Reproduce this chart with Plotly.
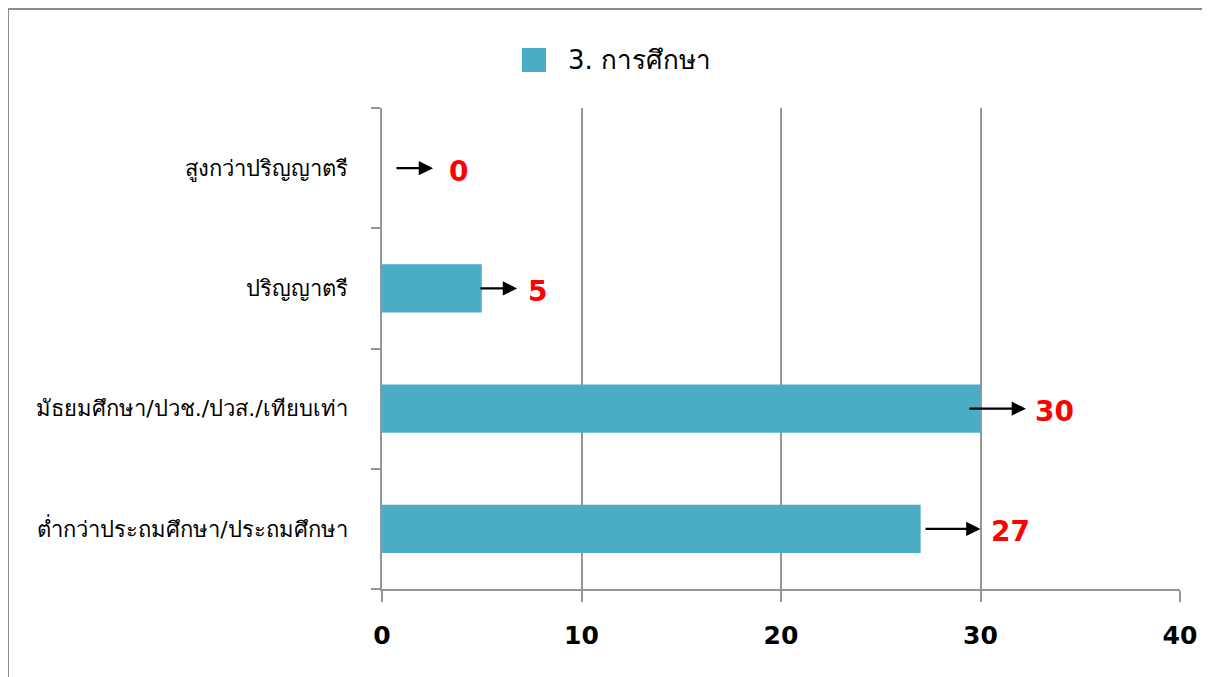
import plotly.graph_objects as go

categories = ["ต่ำกว่าประถมศึกษา/ประถมศึกษา", "มัธยมศึกษา/ปวช./ปวส./เทียบเท่า", "ปริญญาตรี", "สูงกว่าปริญญาตรี"]
values = [27, 30, 5, 0]
series_name = "3. การศึกษา"
x_ticks = [0, 10, 20, 30, 40]

# layout tweaks for arrows/labels (offsets relative to bar value, in axis units)
arrow_tail_off = [0.17, -0.63, -0.14, 0.65]
arrow_head_off = [3.0, 2.28, 1.77, 2.56]
label_off = [4.48, 3.73, 2.77, 3.81]

# page has an 8px body margin, so the figure is drawn 8px in and down
W, H = 1202, 669
L, R, T, B = 374, 30, 100, 88
pw, ph = W - L - R, H - T - B

FONT = "DejaVu Sans, Tahoma, sans-serif"
BAR = "#4BACC6"
GRID = "#969696"

fig = go.Figure()
fig.add_trace(go.Bar(
    y=categories, x=values, orientation="h", name=series_name,
    marker=dict(color=BAR, line=dict(width=0)), showlegend=False,
))

annotations = []
for c, v, t, h, lo in zip(categories, values, arrow_tail_off, arrow_head_off, label_off):
    annotations.append(dict(
        x=v + h, y=c, ax=v + t, ay=c, xref="x", yref="y", axref="x", ayref="y",
        text="", showarrow=True, arrowhead=2, arrowsize=1.3, arrowwidth=2.2, arrowcolor="#000000",
    ))
    annotations.append(dict(
        x=v + lo, y=c, xref="x", yref="y", text=f"<b>{v}</b>", showarrow=False,
        font=dict(family=FONT, size=28, color="#FF0000"), xanchor="center", yanchor="middle",
        yshift=-3,
    ))

# manual legend (larger swatch than plotly's built-in legend allows)
leg_x_px, leg_y_px = 514, 52  # figure px: swatch left, vertical centre
sw = 24
def px_to_paper_x(p):
    return (p - L) / pw
def px_to_paper_y(p):
    return (H - B - p) / ph

annotations.append(dict(
    x=px_to_paper_x(leg_x_px + sw + 20), y=px_to_paper_y(leg_y_px), xref="paper", yref="paper",
    text=series_name, showarrow=False, xanchor="left", yanchor="middle",
    font=dict(family=FONT, size=26, color="#000000"),
))

shapes = [
    dict(type="rect", xref="paper", yref="paper",
         x0=px_to_paper_x(leg_x_px), x1=px_to_paper_x(leg_x_px + sw),
         y0=px_to_paper_y(leg_y_px + sw / 2), y1=px_to_paper_y(leg_y_px - sw / 2),
         line=dict(width=0), fillcolor=BAR),
    # chart-area border (only top and left edges fall inside the view)
    dict(type="line", xref="paper", yref="paper",
         x0=px_to_paper_x(0), x1=px_to_paper_x(W + 20), y0=px_to_paper_y(1), y1=px_to_paper_y(1),
         line=dict(color="#8C8C8C", width=2), layer="below"),
    dict(type="line", xref="paper", yref="paper",
         x0=px_to_paper_x(0), x1=px_to_paper_x(0), y0=px_to_paper_y(1), y1=px_to_paper_y(H + 20),
         line=dict(color="#8C8C8C", width=2), layer="below"),
]

fig.update_layout(
    width=W, height=H,
    margin=dict(l=L, r=R, t=T, b=B, autoexpand=False),
    paper_bgcolor="white", plot_bgcolor="white",
    bargap=0.6,
    showlegend=False,
    font=dict(family=FONT, color="#000000"),
    xaxis=dict(range=[0, 40], tickvals=x_ticks, ticktext=[f"<b>{t}</b>" for t in x_ticks],
               showgrid=True, gridcolor=GRID, gridwidth=1.5,
               showline=True, linecolor=GRID, linewidth=2,
               ticks="outside", ticklen=11, tickcolor=GRID, tickwidth=2,
               tickfont=dict(family=FONT, size=25, color="#000000"), zeroline=False, fixedrange=True,
               ticklabelstandoff=12),
    yaxis=dict(categoryorder="array", categoryarray=categories,
               showline=True, linecolor=GRID, linewidth=2,
               ticks="outside", ticklen=9, tickcolor=GRID, tickwidth=2, tickson="boundaries",
               tickfont=dict(family=FONT, size=22, color="#000000"), showgrid=False,
               ticklabelstandoff=28),
    annotations=annotations,
    shapes=shapes,
)

fig.write_html("out.html")
